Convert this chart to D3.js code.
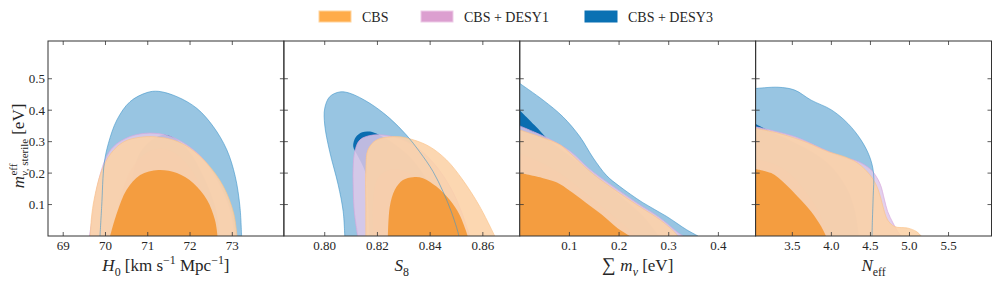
<!DOCTYPE html>
<html>
<head>
<meta charset="utf-8">
<script src="https://cdn.jsdelivr.net/npm/d3@7"></script>
<style>
  body { margin: 0; background: #fff; }
  svg { display: block; }
</style>
</head>
<body>
<svg id="chart" width="996" height="281" font-family="'Liberation Serif', 'Times New Roman', serif"></svg>
<script>
// ---- data ----
const legendNames = ["CBS", "CBS + DESY1", "CBS + DESY3"];
const yTicks = [0.1, 0.2, 0.3, 0.4, 0.5];
const yDomain = [0, 0.62];

const h0Domain = [68.64, 74.22];
const h0Ticks = [69, 70, 71, 72, 73];
const s8Domain = [0.7845, 0.874];
const s8Ticks = [0.80, 0.82, 0.84, 0.86];
const mnuDomain = [0, 0.475];
const mnuTicks = [0.1, 0.2, 0.3, 0.4];
const neffDomain = [3.03, 6.05];
const neffTicks = [3.5, 4.0, 4.5, 5.0, 5.5];

// contour outlines: [x, m_eff]
const h0Desy3_95 = [[69.87,0],[69.91,0.094],[69.97,0.231],[70.07,0.295],[70.27,0.369],[70.58,0.427],[70.98,0.456],[71.25,0.46],[71.69,0.443],[72.16,0.406],[72.55,0.348],[72.87,0.274],[73.07,0.189],[73.18,0.094],[73.22,0]];
const h0Desy3_68 = [[70.55,0],[70.6,0.15],[70.8,0.26],[71.1,0.305],[71.4,0.322],[71.7,0.305],[72.0,0.265],[72.35,0.18],[72.6,0.09],[72.7,0]];
const h0Desy1_95 = [[69.62,0],[69.67,0.042],[69.79,0.147],[69.99,0.242],[70.19,0.284],[70.58,0.316],[71.01,0.327],[71.45,0.32],[71.85,0.296],[72.24,0.255],[72.55,0.2],[72.79,0.14],[72.98,0.07],[73.06,0]];
const h0Desy1_68 = [[70.2,0],[70.35,0.12],[70.65,0.22],[71.05,0.27],[71.45,0.275],[71.85,0.24],[72.2,0.17],[72.45,0.08],[72.55,0]];
const h0Cbs_95 = [[69.64,0],[69.67,0.06],[69.73,0.115],[69.89,0.2],[70.13,0.263],[70.44,0.3],[70.82,0.314],[71.21,0.315],[71.61,0.305],[72.0,0.279],[72.4,0.231],[72.79,0.157],[73.03,0.073],[73.11,0]];
const h0Cbs_68 = [[70.11,0],[70.27,0.073],[70.5,0.147],[70.82,0.194],[71.25,0.21],[71.69,0.2],[72.08,0.168],[72.4,0.115],[72.59,0.051],[72.65,0]];

const s8Desy3_95 = [[0.8076,0],[0.807,0.078],[0.8051,0.163],[0.8019,0.268],[0.8,0.353],[0.8,0.406],[0.8019,0.443],[0.8057,0.458],[0.8095,0.454],[0.8171,0.422],[0.8247,0.374],[0.831,0.321],[0.836,0.268],[0.8411,0.205],[0.8449,0.141],[0.848,0.078],[0.8505,0.014],[0.8509,0]];
const s8Desy3_68 = [[0.817,0],[0.8165,0.1],[0.8155,0.2],[0.8125,0.255],[0.8108,0.285],[0.8118,0.315],[0.8142,0.33],[0.8172,0.332],[0.8205,0.322],[0.826,0.295],[0.833,0.245],[0.839,0.175],[0.844,0.09],[0.846,0]];
const s8Desy1_95 = [[0.8125,0],[0.8112,0.08],[0.8108,0.16],[0.8108,0.22],[0.8114,0.268],[0.8133,0.305],[0.8183,0.321],[0.8272,0.313],[0.8348,0.282],[0.842,0.225],[0.848,0.15],[0.852,0.075],[0.855,0]];
const s8Desy1_68 = [[0.8185,0],[0.8183,0.1],[0.8195,0.17],[0.822,0.2],[0.8265,0.212],[0.832,0.2],[0.838,0.168],[0.843,0.12],[0.847,0.06],[0.849,0]];
const s8Cbs_95 = [[0.8156,0],[0.8156,0.1],[0.8156,0.21],[0.8164,0.274],[0.8196,0.305],[0.8272,0.316],[0.8335,0.306],[0.8398,0.284],[0.8462,0.242],[0.8524,0.178],[0.8588,0.094],[0.8645,0]];
const s8Cbs_68 = [[0.824,0],[0.8247,0.094],[0.8266,0.147],[0.8297,0.178],[0.8335,0.187],[0.8373,0.184],[0.8424,0.157],[0.8474,0.115],[0.8512,0.067],[0.8543,0]];

const mnuDesy3_95 = [[0,0.485],[0.047,0.432],[0.087,0.379],[0.121,0.316],[0.148,0.248],[0.175,0.192],[0.201,0.158],[0.248,0.106],[0.295,0.063],[0.336,0.02],[0.359,0]];
const mnuDesy3_68 = [[0,0.4],[0.03,0.352],[0.06,0.303],[0.1,0.255],[0.15,0.195],[0.2,0.13],[0.25,0.06],[0.28,0]];
const mnuDesy1_95 = [[0,0.35],[0.03,0.33],[0.06,0.308],[0.101,0.27],[0.141,0.212],[0.181,0.165],[0.235,0.106],[0.282,0.058],[0.319,0.01],[0.329,0]];
const mnuDesy1_68 = [[0,0.262],[0.04,0.235],[0.08,0.2],[0.12,0.152],[0.16,0.1],[0.2,0.048],[0.235,0]];
const mnuCbs_95 = [[0,0.337],[0.04,0.316],[0.081,0.29],[0.101,0.264],[0.141,0.206],[0.181,0.158],[0.235,0.1],[0.282,0.052],[0.312,0.012],[0.318,0]];
const mnuCbs_68 = [[0,0.2],[0.047,0.184],[0.075,0.17],[0.1,0.145],[0.13,0.11],[0.165,0.068],[0.197,0.025],[0.222,0]];

const neffDesy3_95 = [[3.035,0.469],[3.316,0.473],[3.53,0.464],[3.74,0.432],[4.0,0.401],[4.21,0.358],[4.38,0.305],[4.49,0.252],[4.54,0.2],[4.535,0.125],[4.525,0.05],[4.52,0]];
const neffDesy3_68 = [[3.035,0.355],[3.2,0.335],[3.5,0.3],[3.8,0.26],[4.0,0.22],[4.2,0.15],[4.3,0.08],[4.35,0]];
const neffDesy1_95 = [[3.035,0.347],[3.53,0.316],[3.87,0.279],[4.13,0.252],[4.34,0.237],[4.51,0.21],[4.62,0.168],[4.68,0.115],[4.72,0.078],[4.79,0.041],[4.85,0.014],[4.89,0]];
const neffDesy1_68 = [[3.035,0.245],[3.3,0.225],[3.5,0.19],[3.7,0.13],[3.85,0.07],[3.95,0]];
const neffCbs_95 = [[3.035,0.342],[3.32,0.327],[3.66,0.3],[3.96,0.268],[4.17,0.252],[4.34,0.231],[4.51,0.189],[4.6,0.147],[4.66,0.094],[4.72,0.051],[4.81,0.03],[4.98,0.025],[5.09,0.014],[5.15,0]];
const neffCbs_68 = [[3.035,0.212],[3.23,0.2],[3.4,0.168],[3.57,0.125],[3.74,0.078],[3.87,0.03],[3.93,0]];

// ---- styles ----
const fills = {
  desy3_95: { fill: "#98c5e2", op: 1 },
  desy3_68: { fill: "#0b6db0", op: 1 },
  desy1_95: { fill: "rgb(222,200,233)", op: 0.85 },
  desy1_68: { fill: "rgb(214,172,214)", op: 0.5 },
  cbs_95: { fill: "rgb(252,210,166)", op: 0.88 },
  cbs_68: { fill: "rgb(243,153,56)", op: 0.93 }
};
const legendColors = [
  { fill: "#ffac4a", stroke: "#ffd39c" },
  { fill: "#dc9fd0", stroke: "#edcbe7" },
  { fill: "#0a71b3", stroke: "#0a71b3" }
];

const panels = [
  { domain: h0Domain, ticks: h0Ticks, fmt: d3.format("d"), label: "h0",
    c: [h0Desy3_95, h0Desy3_68, h0Desy1_95, h0Desy1_68, h0Cbs_95, h0Cbs_68] },
  { domain: s8Domain, ticks: s8Ticks, fmt: d3.format(".2f"), label: "s8",
    c: [s8Desy3_95, s8Desy3_68, s8Desy1_95, s8Desy1_68, s8Cbs_95, s8Cbs_68] },
  { domain: mnuDomain, ticks: mnuTicks, fmt: d3.format(".1f"), label: "mnu",
    c: [mnuDesy3_95, mnuDesy3_68, mnuDesy1_95, mnuDesy1_68, mnuCbs_95, mnuCbs_68] },
  { domain: neffDomain, ticks: neffTicks, fmt: d3.format(".1f"), label: "neff",
    c: [neffDesy3_95, neffDesy3_68, neffDesy1_95, neffDesy1_68, neffCbs_95, neffCbs_68] }
];
const keys = ["desy3_95", "desy3_68", "desy1_95", "desy1_68", "cbs_95", "cbs_68"];

const svg = d3.select("#chart");
const plotLeft = 48, plotRight = 991.5, plotTop = 41, plotBottom = 236;
const pw = (plotRight - plotLeft) / panels.length;
const y = d3.scaleLinear().domain(yDomain).range([plotBottom, plotTop]);
const tickLen = 4;
const ink = "#262626";

// rich text helper: parts = [text, style] ; style: i (italic), sub, sup, size
function rich(sel, parts, base) {
  let shift = 0;
  parts.forEach(p => {
    const s = p[1] || {};
    const target = s.sub ? base * 0.32 : s.sup ? -base * 0.42 : 0;
    const ts = sel.append("tspan").text(p[0]).attr("dy", target - shift);
    if (s.i) ts.style("font-style", "italic");
    if (s.sub || s.sup) ts.style("font-size", (base * 0.7) + "px");
    if (s.size) ts.style("font-size", s.size + "px");
    shift = target;
  });
}

panels.forEach((p, i) => {
  const x0 = plotLeft + i * pw;
  const x = d3.scaleLinear().domain(p.domain).range([x0, x0 + pw]);
  const g = svg.append("g");
  const clipId = "clip" + i;
  svg.append("clipPath").attr("id", clipId)
    .append("rect").attr("x", x0).attr("y", plotTop).attr("width", pw).attr("height", plotBottom - plotTop);

  const line = d3.line().x(d => x(d[0])).y(d => y(d[1])).curve(d3.curveCatmullRom.alpha(0.5));
  const shape = pts => {
    const f = pts[0], l = pts[pts.length - 1];
    return line(pts) + `L${x(l[0])},${y(0)}L${x(f[0])},${y(0)}Z`;
  };

  const area = g.append("g").attr("clip-path", `url(#${clipId})`);
  p.c.forEach((pts, k) => {
    const st = fills[keys[k]];
    area.append("path").attr("d", shape(pts))
      .attr("fill", st.fill).attr("fill-opacity", st.op);
    if (keys[k] === "desy1_95")
      area.append("path").attr("d", line(pts)).attr("fill", "none")
        .attr("stroke", "#d9a8de").attr("stroke-width", 0.7);
    if (keys[k] === "cbs_95")
      area.append("path").attr("d", line(pts)).attr("fill", "none")
        .attr("stroke", "#fbc48c").attr("stroke-width", 0.7);
  });
  // outline of the DES Y3 95% contour sits on top
  area.append("path").attr("d", line(p.c[0])).attr("fill", "none")
    .attr("stroke", "#3f95c9").attr("stroke-width", 0.8).attr("stroke-opacity", 0.75);

  // frame
  g.append("rect").attr("x", x0).attr("y", plotTop).attr("width", pw).attr("height", plotBottom - plotTop)
    .attr("fill", "none").attr("stroke", "#333").attr("stroke-width", 1);

  // ticks (inward on all sides)
  const tk = g.append("g").attr("stroke", "#333").attr("stroke-width", 0.8);
  p.ticks.forEach(t => {
    tk.append("line").attr("x1", x(t)).attr("x2", x(t)).attr("y1", plotBottom).attr("y2", plotBottom - tickLen);
    tk.append("line").attr("x1", x(t)).attr("x2", x(t)).attr("y1", plotTop).attr("y2", plotTop + tickLen);
    g.append("text").attr("x", x(t)).attr("y", plotBottom + 14).attr("text-anchor", "middle")
      .attr("fill", ink).style("font-size", "13px").text(p.fmt(t));
  });
  yTicks.forEach(t => {
    tk.append("line").attr("x1", x0).attr("x2", x0 + tickLen).attr("y1", y(t)).attr("y2", y(t));
    tk.append("line").attr("x1", x0 + pw).attr("x2", x0 + pw - tickLen).attr("y1", y(t)).attr("y2", y(t));
  });

  // x label
  const lab = g.append("text").attr("x", x0 + pw / 2).attr("y", 271).attr("fill", ink)
    .attr("text-anchor", "middle").style("font-size", "17px");
  if (p.label === "h0")
    rich(lab, [["H", { i: 1 }], ["0", { sub: 1 }], [" [km s"], ["−1", { sup: 1 }], [" Mpc"], ["−1", { sup: 1 }], ["]"]], 17);
  else if (p.label === "s8")
    rich(lab, [["S", { i: 1 }], ["8", { sub: 1 }]], 17);
  else if (p.label === "mnu")
    rich(lab, [["∑ ", { size: 19 }], ["m", { i: 1 }], ["ν", { sub: 1, i: 1 }], [" [eV]"]], 17);
  else
    rich(lab, [["N", { i: 1 }], ["eff", { sub: 1 }]], 17);
});

// y tick labels (left panel only)
yTicks.forEach(t => {
  svg.append("text").attr("x", 45).attr("y", y(t) + 4.5).attr("text-anchor", "end").attr("fill", ink)
    .style("font-size", "13px").text(d3.format(".1f")(t));
});

// y label: m^eff_{nu, sterile} [eV]
const yl = svg.append("g").attr("transform", "translate(24,146) rotate(-90)").attr("fill", ink);
const mT = yl.append("text").attr("x", 0).attr("y", 0).style("font-size", "17px").style("font-style", "italic").text("m");
const mW = mT.node().getComputedTextLength();
const supT = yl.append("text").attr("x", mW + 0.5).attr("y", -7).style("font-size", "11px").text("eff");
const subT = yl.append("text").attr("x", mW).attr("y", 4).style("font-size", "11px");
subT.append("tspan").style("font-style", "italic").text("ν");
subT.append("tspan").text(", sterile");
const sW = Math.max(supT.node().getComputedTextLength(), subT.node().getComputedTextLength());
const evT = yl.append("text").attr("x", mW + sW + 4).attr("y", 0).style("font-size", "17px").text("[eV]");
const total = mW + sW + 4 + evT.node().getComputedTextLength();
yl.selectAll("text").attr("x", function () { return +d3.select(this).attr("x") - total / 2; });

// legend
const lx = [319, 421, 585];
legendNames.forEach((n, i) => {
  svg.append("rect").attr("x", lx[i]).attr("y", 11).attr("width", 32).attr("height", 11)
    .attr("fill", legendColors[i].fill).attr("stroke", legendColors[i].stroke).attr("stroke-width", 1);
  svg.append("text").attr("x", lx[i] + 43).attr("y", 21.5).attr("fill", ink)
    .style("font-size", "14px").text(n);
});
</script>
</body>
</html>
